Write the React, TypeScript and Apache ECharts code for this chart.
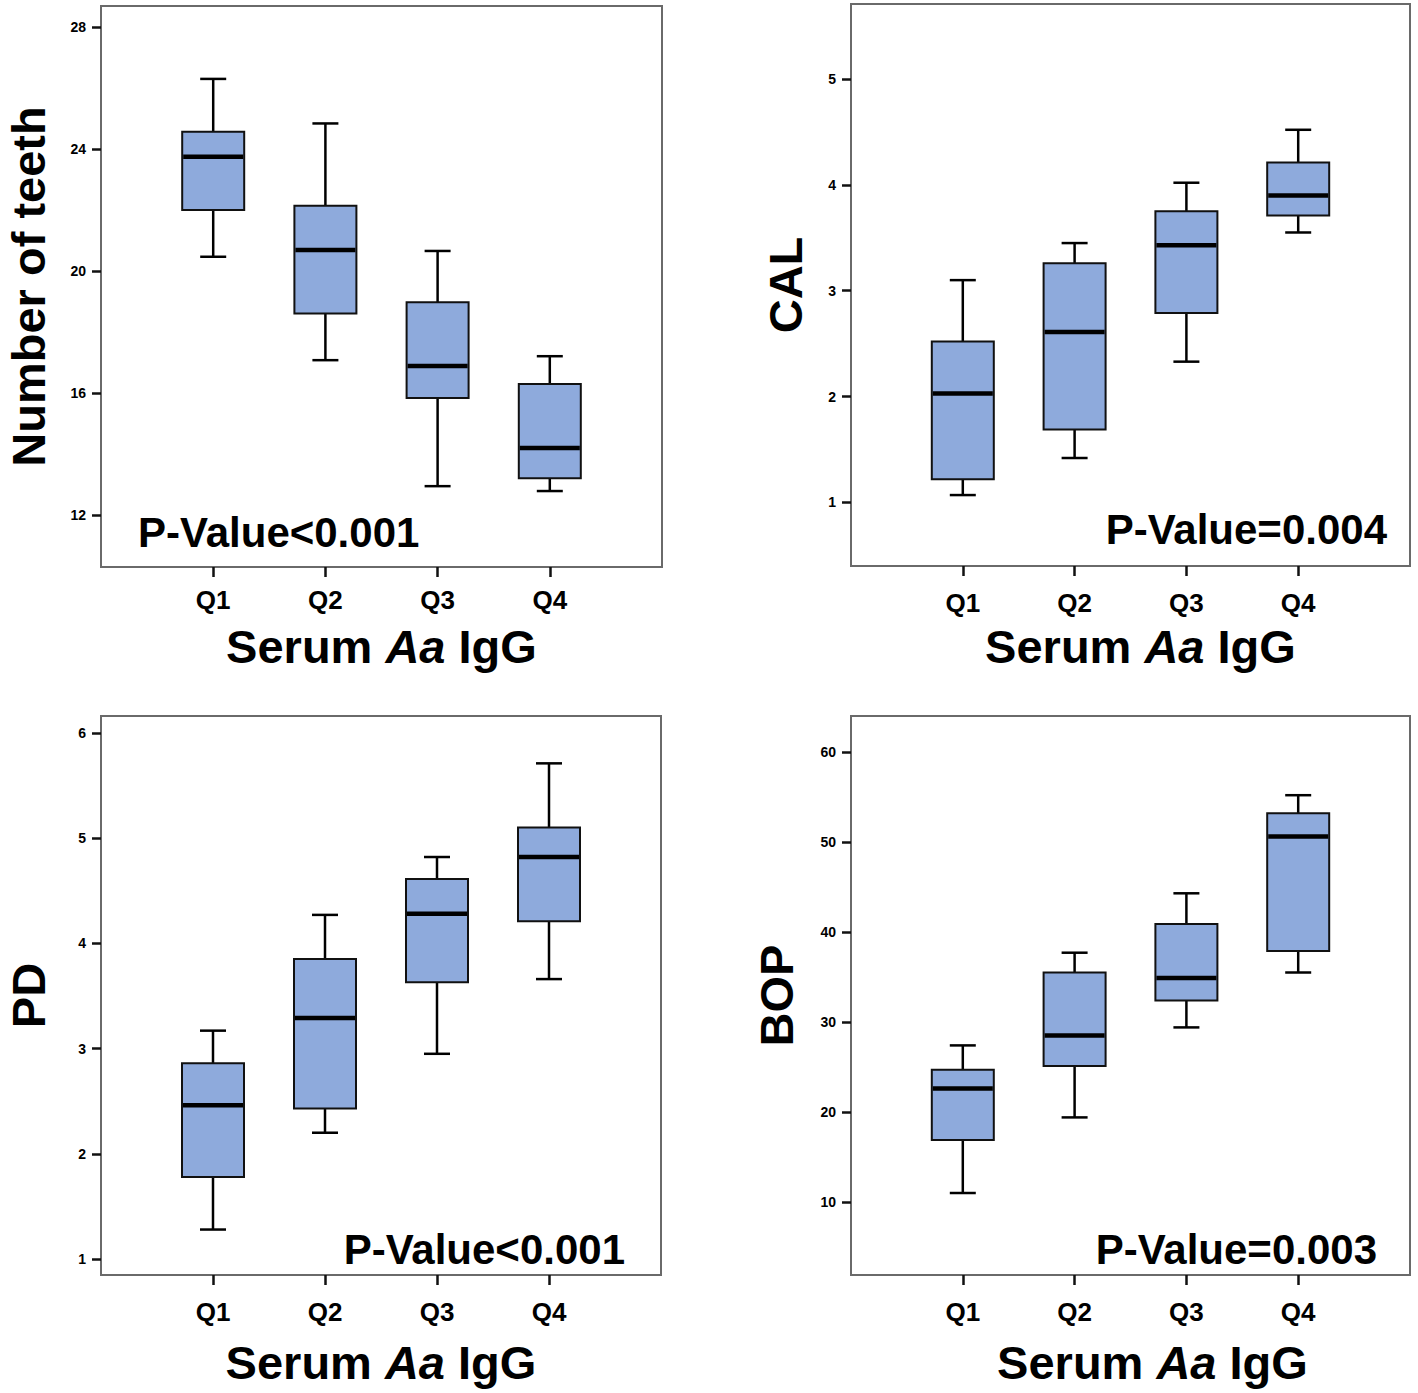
import React, { useEffect, useRef } from 'react';
import * as echarts from 'echarts';

// category slots: empty padding slots on both sides so Q1..Q4 sit at 1/5..4/5 of the frame
const categories = ['', 'Q1', 'Q2', 'Q3', 'Q4', ''];
const quartiles = ['Q1', 'Q2', 'Q3', 'Q4'];

// each row: [min, lower quartile, median, upper quartile, max]
const teethBoxes = [
  [20.47, 22.0, 23.75, 24.57, 26.3],
  [17.08, 18.61, 20.69, 22.14, 24.84],
  [12.95, 15.84, 16.89, 18.98, 20.66],
  [12.79, 13.21, 14.2, 16.3, 17.21],
];
const calBoxes = [
  [1.07, 1.22, 2.03, 2.52, 3.1],
  [1.42, 1.69, 2.61, 3.26, 3.45],
  [2.33, 2.79, 3.43, 3.75, 4.02],
  [3.55, 3.71, 3.9, 4.21, 4.52],
];
const pdBoxes = [
  [1.28, 1.78, 2.46, 2.86, 3.17],
  [2.2, 2.43, 3.29, 3.85, 4.27],
  [2.95, 3.63, 4.28, 4.61, 4.82],
  [3.66, 4.21, 4.82, 5.1, 5.71],
];
const bopBoxes = [
  [11.0, 16.9, 22.6, 24.7, 27.4],
  [19.4, 25.1, 28.5, 35.5, 37.7],
  [29.4, 32.4, 34.9, 40.9, 44.3],
  [35.5, 37.9, 50.6, 53.2, 55.2],
];

const teethTicks = [12, 16, 20, 24, 28];
const calTicks = [1, 2, 3, 4, 5];
const pdTicks = [1, 2, 3, 4, 5, 6];
const bopTicks = [10, 20, 30, 40, 50, 60];

const yTitles = ['Number of teeth', 'CAL', 'PD', 'BOP'];
const pValues = ['P-Value<0.001', 'P-Value=0.004', 'P-Value<0.001', 'P-Value=0.003'];

const FONT = '"Liberation Sans", Arial, Helvetica, sans-serif';
const BOX_FILL = '#8eaadc';

function renderBox(params: any, api: any) {
  const x = api.value(0);
  const lo = api.coord([x, api.value(1)]);
  const q1 = api.coord([x, api.value(2)]);
  const med = api.coord([x, api.value(3)]);
  const q3 = api.coord([x, api.value(4)]);
  const hi = api.coord([x, api.value(5)]);
  const cx = lo[0];
  const hw = 31;
  const cw = 13;
  const ln = { stroke: '#000', lineWidth: 2.5 };
  return {
    type: 'group',
    children: [
      { type: 'line', shape: { x1: cx, y1: hi[1], x2: cx, y2: q3[1] }, style: ln },
      { type: 'line', shape: { x1: cx, y1: q1[1], x2: cx, y2: lo[1] }, style: ln },
      { type: 'line', shape: { x1: cx - cw, y1: hi[1], x2: cx + cw, y2: hi[1] }, style: ln },
      { type: 'line', shape: { x1: cx - cw, y1: lo[1], x2: cx + cw, y2: lo[1] }, style: ln },
      {
        type: 'rect',
        shape: { x: cx - hw, y: q3[1], width: hw * 2, height: q1[1] - q3[1] },
        style: { fill: BOX_FILL, stroke: '#111', lineWidth: 2 },
      },
      {
        type: 'line',
        shape: { x1: cx - hw + 1, y1: med[1], x2: cx + hw - 1, y2: med[1] },
        style: { stroke: '#000', lineWidth: 4.5 },
      },
    ],
  };
}

export default function App() {
  const ref = useRef<HTMLDivElement>(null);

  useEffect(() => {
    document.body.style.margin = '0';
    if (!ref.current) return;
    const chart = echarts.init(ref.current, undefined, { renderer: 'svg' });

    const grids = [
      { left: 101, top: 6, width: 561, height: 561 },
      { left: 851, top: 4, width: 559, height: 562 },
      { left: 101, top: 716, width: 560, height: 559 },
      { left: 851, top: 716, width: 559, height: 559 },
    ];
    const ranges = [
      [10.3, 28.69],
      [0.4, 5.708],
      [0.848, 6.16],
      [1.89, 64],
    ];
    const ticks = [teethTicks, calTicks, pdTicks, bopTicks];
    const boxes = [teethBoxes, calBoxes, pdBoxes, bopBoxes];
    const yNameGaps = [53, 46, 53, 55];
    const xLabelMargins = [20, 24, 24, 24];
    const xNameGaps = [56, 57, 64, 64];
    const xNameShift = [0, 20, 0, 44];

    const notEmpty = (_i: number, v: string) => v !== '';

    const option: any = {
      animation: false,
      backgroundColor: '#fff',
      grid: grids.map((g) => ({
        ...g,
        show: true,
        borderColor: '#6a6a6a',
        borderWidth: 2,
        backgroundColor: 'transparent',
        containLabel: false,
        outerBoundsMode: 'none',
      })),
      xAxis: grids.map((_, i) => ({
        type: 'category',
        gridIndex: i,
        data: categories,
        boundaryGap: false,
        axisLine: { show: false },
        splitLine: { show: false },
        axisTick: {
          show: true,
          interval: notEmpty,
          length: 10,
          lineStyle: { color: '#111', width: 2.5 },
        },
        axisLabel: {
          interval: notEmpty,
          margin: xLabelMargins[i],
          fontSize: 26,
          fontWeight: 'bold',
          fontFamily: FONT,
          color: '#000',
        },
        name: '{n|Serum }{i|Aa}{n| IgG}',
        nameLocation: 'middle',
        nameGap: xNameGaps[i],
        nameTextStyle: {
          padding: [0, 0, 0, xNameShift[i]],
          rich: {
            n: { fontSize: 47, fontWeight: 'bold', fontFamily: FONT, color: '#000' },
            i: { fontSize: 47, fontWeight: 'bold', fontStyle: 'italic', fontFamily: FONT, color: '#000' },
          },
        },
      })),
      yAxis: grids.map((_, i) => ({
        type: 'value',
        gridIndex: i,
        min: ranges[i][0],
        max: ranges[i][1],
        axisLine: { show: false },
        splitLine: { show: false },
        axisTick: {
          show: true,
          length: 9,
          customValues: ticks[i],
          lineStyle: { color: '#111', width: 2.5 },
        },
        axisLabel: {
          customValues: ticks[i],
          margin: 15,
          fontSize: 14,
          fontWeight: 'bold',
          fontFamily: FONT,
          color: '#000',
        },
        name: yTitles[i],
        nameLocation: 'middle',
        nameRotate: 90,
        nameGap: yNameGaps[i],
        nameTextStyle: { fontSize: 47, lineHeight: 40, fontWeight: 'bold', fontFamily: FONT, color: '#000' },
      })),
      series: boxes.map((b, i) => ({
        type: 'custom',
        xAxisIndex: i,
        yAxisIndex: i,
        renderItem: renderBox,
        encode: { x: 0, y: [1, 2, 3, 4, 5] },
        data: b.map((row, k) => [quartiles[k], ...row]),
        z: 5,
      })),
      graphic: [
        { type: 'text', left: 138, top: 511, style: { text: pValues[0], font: `bold 42px ${FONT}`, fill: '#000' } },
        { type: 'text', right: 1418 - 1387, top: 508, style: { text: pValues[1], font: `bold 42px ${FONT}`, fill: '#000' } },
        { type: 'text', right: 1418 - 625, top: 1228, style: { text: pValues[2], font: `bold 42px ${FONT}`, fill: '#000' } },
        { type: 'text', right: 1418 - 1377, top: 1228, style: { text: pValues[3], font: `bold 42px ${FONT}`, fill: '#000' } },
      ],
    };

    chart.setOption(option);
    return () => chart.dispose();
  }, []);

  return <div ref={ref} style={{ width: 1418, height: 1393 }} />;
}
